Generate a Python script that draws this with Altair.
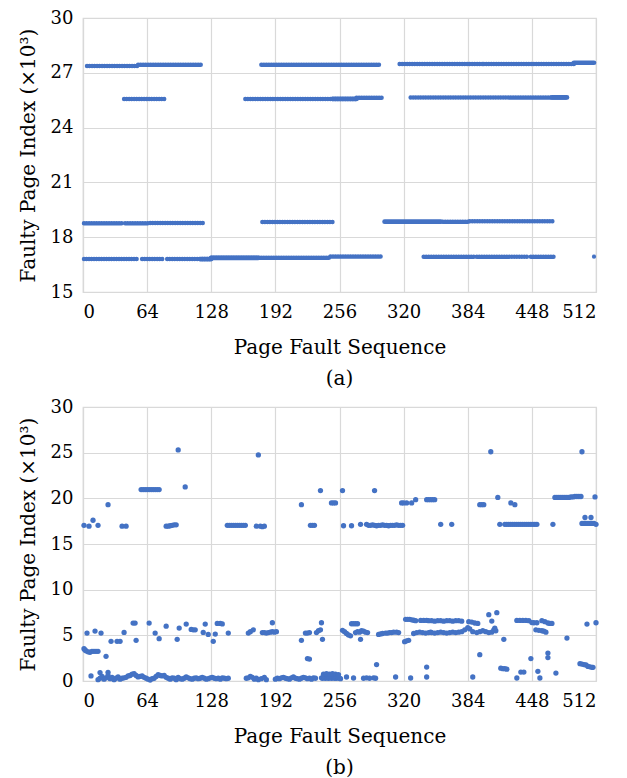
import altair as alt
import pandas as pd

BLUE = "#4472C4"
GRID = "#d9d9d9"
FONT = "DejaVu Serif"

# ---------------- Panel (a): runs of faults on the same page index ----------------
a_seg_x1 = [4, 55, 178, 316, 400, 41, 162, 273, 327, 1, 42, 67, 179, 359, 386, 1, 59, 84, 128, 247, 340, 393, 447]
a_seg_x2 = [55, 119, 297, 400, 490, 83, 273, 298, 483, 40, 65, 120, 249, 386, 470, 55, 80, 128, 247, 299, 391, 443, 470]
a_seg_y = [27.37, 27.44, 27.44, 27.48, 27.48, 25.57, 25.57, 25.64, 25.65, 18.76, 18.76, 18.78, 18.83, 18.85, 18.88,
           16.80, 16.80, 16.80, 16.87, 16.95, 16.93, 16.93, 16.93]
# denser runs (overlapping dots)
a_dense_x1 = [490, 249, 468, 301, 117, 128]
a_dense_x2 = [510, 273, 483, 357, 128, 175]
a_dense_y = [27.55, 25.57, 25.65, 18.85, 16.80, 16.87]
# isolated faults
a_pt_x = [510]
a_pt_y = [16.93]

# ---------------- Panel (b): scattered faults ----------------
b_high_x = [1, 6, 10, 15, 25, 39, 43,
            58, 60, 62, 64, 66, 68, 70, 72, 74, 76,
            83, 85, 87, 89, 91, 93, 95, 102,
            144, 146, 148, 150, 152, 154, 156, 158, 160, 162,
            175, 173, 177, 179, 181, 218, 227, 229, 231, 237, 248, 250, 252, 259,
            260, 268, 277, 283,
            285, 287, 289, 291, 293, 295, 297, 299, 301, 303, 305, 307, 309, 311, 313, 315, 317, 319,
            291, 318, 320, 323, 328, 332, 343, 345, 347, 349, 351, 357, 368,
            396, 398, 400, 407, 414, 416,
            421, 423, 425, 427, 429, 431, 433, 435, 437, 427, 431,
            439, 441, 443, 445, 447, 449, 451, 453, 469,
            471, 473, 475, 477, 479, 481, 483, 485, 487, 489, 491, 493, 495, 497,
            498, 501, 507, 498, 500, 502, 504, 506, 508, 510, 512, 511]
b_high_y = [17.05, 16.95, 17.6, 17.05, 19.3, 16.95, 16.95,
            20.96, 20.96, 20.96, 20.96, 20.96, 20.96, 20.96, 20.96, 20.96, 20.96,
            16.95, 16.95, 17.0, 17.05, 17.1, 17.1, 25.3, 21.25,
            17.05, 17.05, 17.05, 17.05, 17.05, 17.05, 17.05, 17.05, 17.05, 17.05,
            24.75, 16.95, 16.95, 16.9, 16.95, 19.3, 17.05, 17.05, 17.05, 20.85, 19.5, 19.5, 19.5, 20.85,
            17.0, 17.0, 17.15, 17.15,
            17.05, 17.05, 17.1, 17.05, 17.0, 17.05, 17.05, 17.1, 17.05, 17.05, 17.0, 17.05, 17.05, 17.05, 17.1, 17.05, 17.05, 17.05,
            20.85, 19.5, 19.5, 19.5, 19.5, 19.85, 19.85, 19.85, 19.85, 19.85, 19.85, 17.15, 17.15,
            19.3, 19.3, 19.3, 25.1, 20.1, 17.15,
            17.15, 17.15, 17.15, 17.15, 17.15, 17.15, 17.15, 17.15, 17.15, 19.5, 19.3,
            17.15, 17.15, 17.15, 17.15, 17.15, 17.15, 17.15, 17.15, 17.15,
            20.1, 20.1, 20.1, 20.1, 20.1, 20.1, 20.1, 20.1, 20.15, 20.15, 20.2, 20.2, 20.2, 20.2,
            25.1, 17.9, 17.9, 17.25, 17.25, 17.25, 17.25, 17.25, 17.25, 17.25, 17.15, 20.15]

b_mid_x = [1, 2, 3, 5, 7, 9, 11, 13, 15, 4, 12, 18, 23, 28, 34, 37, 41, 50, 52, 53,
           66, 72, 76, 83, 94, 96, 103, 108, 110, 112, 120, 122, 125, 130, 132, 134, 137, 139, 145,
           165, 167, 170, 179, 181, 183, 185, 187, 189, 191, 193, 189,
           218, 222, 224, 226, 224, 226, 233, 235, 237, 238, 239,
           259, 261, 263, 265, 267, 268, 270, 272, 274, 272, 274, 276, 278, 280, 282, 284, 277,
           295, 297, 299, 302, 304, 306, 308, 310, 313, 315, 293,
           321, 323, 325, 322, 324, 326, 328, 330, 332,
           330, 333, 336, 339, 342, 345, 347, 337, 340, 343, 343,
           345, 348, 351, 354, 357, 360, 363, 366, 369, 372, 375, 378,
           348, 351, 354, 357, 360, 363, 366, 369, 372, 375, 378, 381, 384, 386, 389,
           385, 388, 391, 394, 393, 396, 399, 402, 405, 408, 410, 411, 412,
           405, 408, 413, 420, 396, 417, 419, 421, 423, 437, 440,
           433, 436, 439, 442, 445, 447, 448, 450, 453, 454,
           452, 455, 458, 460, 462, 458, 461, 464, 466, 468, 464, 464, 472, 483,
           496, 498, 500, 502, 504, 506, 508, 509, 503, 512]
b_mid_y = [3.54, 3.4, 3.3, 3.2, 3.15, 3.25, 3.25, 3.25, 3.25, 5.25, 5.47, 5.25, 2.7, 4.34, 4.34, 4.34, 5.32, 6.34, 6.34, 4.45,
           6.34, 5.25, 4.63, 6.0, 4.56, 5.8, 6.23, 5.65, 5.6, 5.6, 5.32, 6.23, 5.1, 4.34, 5.14, 6.3, 6.3, 6.25, 5.25,
           5.25, 5.4, 5.6, 5.3, 5.3, 5.25, 5.3, 5.35, 5.4, 5.35, 5.4, 6.38,
           4.45, 5.25, 5.25, 5.3, 2.45, 2.4, 5.3, 5.5, 5.6, 6.38, 4.56,
           5.55, 5.4, 5.2, 5.05, 4.95, 6.27, 6.27, 6.27, 6.27, 5.3, 5.4, 5.35, 5.5, 5.45, 5.35, 5.3, 4.56,
           5.1, 5.15, 5.2, 5.25, 5.25, 5.3, 5.3, 5.35, 5.35, 5.3, 1.8,
           4.3, 4.4, 4.45, 6.75, 6.75, 6.75, 6.7, 6.65, 6.6,
           5.2, 5.3, 5.35, 5.3, 5.25, 5.3, 5.35, 6.63, 6.63, 6.63, 1.53,
           6.6, 6.6, 6.55, 6.6, 6.6, 6.55, 6.6, 6.6, 6.55, 6.6, 6.6, 6.55,
           5.3, 5.25, 5.3, 5.35, 5.3, 5.25, 5.3, 5.35, 5.3, 5.35, 5.4, 5.6, 5.85, 5.7, 5.4,
           6.5, 6.45, 6.35, 6.3, 5.3, 5.4, 5.5, 5.4, 5.3, 5.35, 5.6, 5.8, 5.5,
           7.26, 6.56, 7.48, 4.56, 2.88, 1.4, 1.35, 1.35, 1.3, 0.98, 0.98,
           6.63, 6.63, 6.63, 6.63, 6.6, 2.45, 6.4, 6.38, 6.38, 1.06,
           5.6, 5.55, 5.5, 5.45, 5.35, 6.6, 6.5, 6.35, 6.3, 6.3, 3.06, 2.56, 0.87, 4.7,
           1.9, 1.85, 1.8, 1.75, 1.6, 1.55, 1.5, 1.5, 6.23, 6.38]

b_low_x = [8, 17, 25,
           15, 17, 19, 21, 23, 25, 27, 29, 31, 33, 35, 37, 39, 41, 43, 45, 47, 49, 51, 53, 55, 57, 59, 61, 63,
           65, 67, 69, 71, 73, 75, 77, 79, 81, 83, 85, 87, 89, 91, 93, 95, 97, 99, 101, 103, 105, 107, 109,
           111, 113, 115, 117, 119, 121, 123, 125, 127, 129, 131, 133, 135, 137, 139, 141, 143, 145,
           163, 165, 167, 169, 171, 173, 175, 178, 181, 183,
           192, 194, 196, 198, 200, 202, 204, 206, 208, 210, 212, 214, 216, 218, 220, 222, 224, 226, 228, 230, 232,
           238, 239, 240, 241, 242, 243, 244, 245, 246, 247, 248, 249, 250, 251, 252, 253, 254, 255, 256, 257,
           240, 243, 246, 249, 252, 255,
           263, 270, 280, 283, 286, 290, 292, 312, 327, 343, 389, 433, 456]
b_low_y = [0.55, 0.92, 0.95,
           0.15, 0.3, 0.5, 0.2, 0.35, 0.6, 0.25, 0.4, 0.15, 0.3, 0.45, 0.2, 0.3, 0.35, 0.4, 0.55, 0.6, 0.75, 0.8, 0.6, 0.45, 0.5, 0.55, 0.4, 0.3,
           0.2, 0.1, 0.25, 0.3, 0.5, 0.7, 0.6, 0.55, 0.6, 0.4, 0.3, 0.2, 0.35, 0.3, 0.15, 0.4, 0.25, 0.2, 0.3, 0.45, 0.35, 0.25, 0.2,
           0.3, 0.35, 0.25, 0.3, 0.4, 0.3, 0.2, 0.25, 0.35, 0.4, 0.3, 0.25, 0.3, 0.2, 0.35, 0.3, 0.25, 0.3,
           0.3, 0.35, 0.5, 0.4, 0.2, 0.3, 0.15, 0.25, 0.4, 0.15,
           0.2, 0.3, 0.25, 0.35, 0.4, 0.3, 0.25, 0.2, 0.35, 0.45, 0.3, 0.25, 0.2, 0.3, 0.4, 0.35, 0.25, 0.3, 0.2, 0.35, 0.3,
           0.35, 0.3, 0.4, 0.35, 0.3, 0.4, 0.35, 0.3, 0.35, 0.4, 0.3, 0.35, 0.4, 0.3, 0.35, 0.3, 0.4, 0.35, 0.3, 0.25,
           0.75, 0.8, 0.75, 0.8, 0.75, 0.7,
           0.44, 0.33, 0.3, 0.35, 0.3, 0.35, 0.3, 0.44, 0.33, 0.44, 0.44, 0.33, 0.33]

X_TICKS = [0, 64, 128, 192, 256, 320, 384, 448, 512]
A_Y_TICKS = [15, 18, 21, 24, 27, 30]
B_Y_TICKS = [0, 5, 10, 15, 20, 25, 30]

W, H = 513, 274


def x_axis():
    return alt.Axis(values=X_TICKS, title="Page Fault Sequence", labelPadding=11, titlePadding=16)


def y_axis(vals):
    return alt.Axis(values=vals, title="Faulty Page Index (×10³)", labelPadding=10, titlePadding=12)


xs = alt.Scale(domain=[0, 512], nice=False, zero=False)

seg_df = pd.DataFrame({"x": a_seg_x1, "x2": a_seg_x2, "y": a_seg_y})
dense_df = pd.DataFrame({"x": a_dense_x1, "x2": a_dense_x2, "y": a_dense_y})
apt_df = pd.DataFrame({"x": a_pt_x, "y": a_pt_y})

ya = alt.Scale(domain=[15, 30], nice=False, zero=False)

segs = alt.Chart(seg_df).mark_rule(color=BLUE, strokeWidth=4.5, strokeCap="round", strokeDash=[0.1, 2.4]).encode(
    x=alt.X("x:Q", scale=xs, axis=x_axis()),
    x2="x2:Q",
    y=alt.Y("y:Q", scale=ya, axis=y_axis(A_Y_TICKS)),
)
dense = alt.Chart(dense_df).mark_rule(color=BLUE, strokeWidth=4.7, strokeCap="round").encode(
    x=alt.X("x:Q", scale=xs), x2="x2:Q", y=alt.Y("y:Q", scale=ya)
)
apts = alt.Chart(apt_df).mark_circle(color=BLUE, size=18, opacity=1).encode(
    x=alt.X("x:Q", scale=xs), y=alt.Y("y:Q", scale=ya)
)

panel_a = alt.layer(segs, dense, apts).properties(
    width=W, height=H,
    title=alt.TitleParams("(a)", orient="bottom", frame="group", anchor="middle", offset=12),
)

b_df = pd.DataFrame({
    "x": b_high_x + b_mid_x + b_low_x,
    "y": b_high_y + b_mid_y + b_low_y,
})
yb = alt.Scale(domain=[0, 30], nice=False, zero=False)
panel_b = alt.Chart(b_df).mark_circle(color=BLUE, size=28, opacity=1).encode(
    x=alt.X("x:Q", scale=xs, axis=x_axis()),
    y=alt.Y("y:Q", scale=yb, axis=y_axis(B_Y_TICKS)),
).properties(
    width=W, height=H,
    title=alt.TitleParams("(b)", orient="bottom", frame="group", anchor="middle", offset=12),
)

chart = alt.vconcat(panel_a, panel_b, spacing=7).properties(
    padding={"left": 9, "top": 0, "right": 5, "bottom": 0}
).configure(
    font=FONT,
).configure_view(
    stroke=GRID, strokeWidth=1.2,
).configure_axis(
    grid=True, gridColor=GRID, gridWidth=1.2, domainColor=GRID, domainWidth=1.2, ticks=False,
    labelFont=FONT, labelFontSize=18, labelColor="#000000",
    titleFont=FONT, titleFontSize=20, titleFontWeight="normal", titleColor="#000000",
).configure_title(
    font=FONT, fontSize=20, fontWeight="normal", color="#000000",
)

chart.save("out.html", embed_options={"renderer": "svg", "actions": False})
